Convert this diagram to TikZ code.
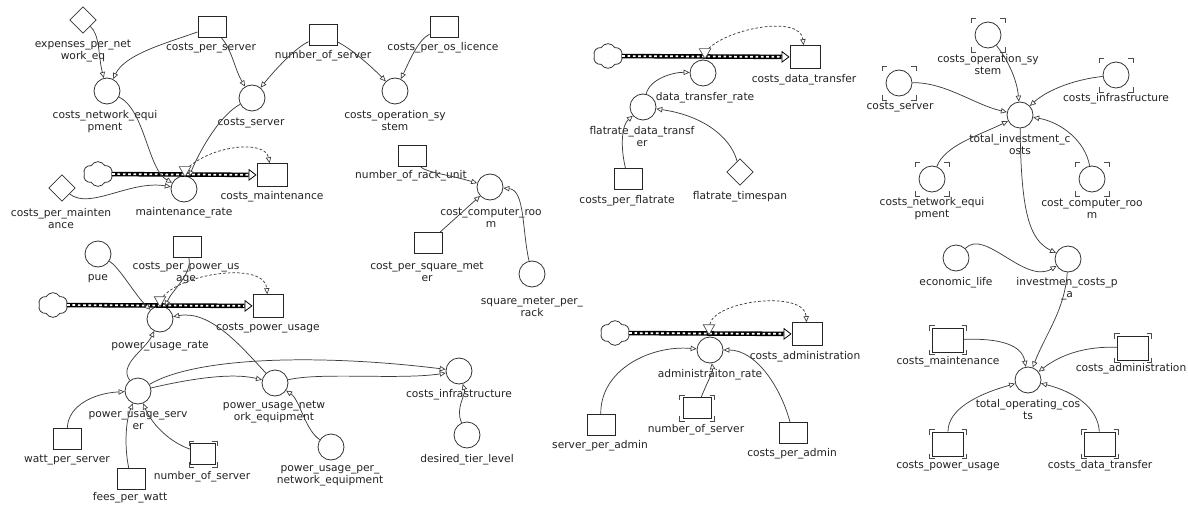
\documentclass[tikz,border=0pt]{standalone}
\usepackage{fontspec}
\setmainfont{DejaVu Sans}
\usetikzlibrary{arrows.meta,shapes.geometric,shapes.symbols,calc}
\definecolor{linkc}{RGB}{60,60,60}
\definecolor{txtc}{RGB}{35,35,35}
\newcommand\lblfont{\fontsize{8pt}{9pt}\selectfont}
\newcommand\corners[3]{%
  \draw[brkst] ($(#1)+(-#2,-#3)$) ++(0,5) -- ++(0,-5) -- ++(5,0);
  \draw[brkst] ($(#1)+(#2,-#3)$) ++(-5,0) -- ++(5,0) -- ++(0,5);
  \draw[brkst] ($(#1)+(-#2,#3)$) ++(0,-5) -- ++(0,5) -- ++(5,0);
  \draw[brkst] ($(#1)+(#2,#3)$) ++(-5,0) -- ++(5,0) -- ++(0,-5);
}
\begin{document}
\begin{tikzpicture}[x=0.75pt,y=-0.75pt,
 txt/.style={font=\lblfont, text=txtc, inner sep=0pt, align=center},
 stock/.style={draw=black!85, line width=0.7pt, minimum width=21pt, minimum height=15.75pt, inner sep=0pt},
 big/.style={minimum width=22.5pt, minimum height=17pt},
 bigb/.style={minimum width=23pt, minimum height=18pt},
 aux/.style={circle, draw=black!80, line width=0.6pt, minimum size=19.5pt, inner sep=0pt},
 const/.style={diamond, draw=black!80, line width=0.6pt, minimum width=20pt, minimum height=20pt, inner sep=0pt},
 src/.style={cloud, cloud puffs=6, cloud puff arc=120, draw=black!80, line width=0.6pt, minimum width=22pt, minimum height=18.5pt, inner sep=0pt},
 valvest/.style={regular polygon, regular polygon sides=3, shape border rotate=180, draw=black!70, fill=white, line width=0.5pt, minimum size=10pt, inner sep=0pt},
 link/.style={draw=linkc, line width=0.55pt, -{Triangle[fill=white, length=4.5pt, width=4pt, line width=0.5pt]}},
 info/.style={link, dash pattern=on 2pt off 1.5pt},
 pipeo/.style={draw=black, line width=3.4pt, -{Triangle[fill=white, length=6pt, width=9pt, line width=0.6pt]}},
 pipei/.style={draw=white, line width=1.3pt, dash pattern=on 2pt off 2pt, shorten >=6.5pt},
 brkst/.style={draw=black!70, line width=0.7pt}
]
\useasboundingbox (0,0) rectangle (1188,506);
\fill[white] (0,0) rectangle (1188,506);

% ---------- Panel A: maintenance
\node[const] (exnet) at (83,20) {};
\node[stock] (cps) at (212,27) {};
\node[stock] (nos1) at (323,35) {};
\node[stock] (cpos) at (444,27) {};
\node[aux] (cne) at (107,91) {};
\node[aux] (cs) at (252,98) {};
\node[aux] (cos) at (395,91) {};
\node[aux] (mr) at (184,189) {};
\node[stock,big] (cm) at (272,175) {};
\node[const] (cpm) at (62,188) {};
\node[src] (cl1) at (98,174) {};

% ---------- Panel B: computer room
\node[stock] (nru) at (412,156) {};
\node[aux] (ccr) at (490,187) {};
\node[stock] (cpsm) at (428,243) {};
\node[aux] (smpr) at (532,274) {};

% ---------- Panel C: power
\node[aux] (pue) at (98,254) {};
\node[stock] (cppu) at (187,247) {};
\node[src] (cl2) at (53,305) {};
\node[aux] (pur) at (160,319) {};
\node[stock,big] (cpu) at (268,306) {};
\node[aux] (pus) at (138,391) {};
\node[aux] (pune) at (275,383) {};
\node[stock] (wps) at (67,439) {};
\node[stock] (fpw) at (131,479) {};
\node[stock,minimum width=19pt] (nos2) at (203,454) {};
\node[aux] (pupne) at (331,447) {};
\node[aux] (ci) at (459,371) {};
\node[aux] (dtl) at (467,435) {};

% ---------- Panel D: data transfer
\node[src] (cl3) at (608,56) {};
\node[stock,big] (cdt) at (805,57) {};
\node[aux] (dtr) at (703,73) {};
\node[aux] (fdt) at (643,107) {};
\node[stock] (cpf) at (628,179) {};
\node[const] (fts) at (740,172) {};

% ---------- Panel E: administration
\node[src] (cl4) at (615,333) {};
\node[stock,big] (cad) at (807,334) {};
\node[aux] (ar) at (710,350) {};
\node[stock] (nos3) at (697,408) {};
\node[stock] (spa) at (601,425) {};
\node[stock] (cpa) at (793,433) {};

% ---------- Panel F: totals
\node[aux] (tos) at (988,35) {};
\node[aux] (tsv) at (899,83) {};
\node[aux] (tci) at (1116,75) {};
\node[aux] (tic) at (1020,115) {};
\node[aux] (tne) at (932,179) {};
\node[aux] (tcr) at (1092,179) {};
\node[aux] (el) at (956,258) {};
\node[aux] (icpa) at (1068,259) {};
\node[stock,bigb] (tcm) at (948,340) {};
\node[stock,bigb] (tca) at (1133,348) {};
\node[aux] (toc) at (1028,380) {};
\node[stock,bigb] (tpu) at (948,444) {};
\node[stock,bigb] (tdt) at (1100,444) {};

% shadow-variable corner marks
\corners{nos2}{14}{13}
\corners{nos3}{17.5}{13}
\corners{tos}{17}{17}
\corners{tsv}{17}{17}
\corners{tci}{17}{17}
\corners{tne}{17}{17}
\corners{tcr}{17}{17}
\corners{tcm}{18.5}{14.5}
\corners{tca}{18.5}{14.5}
\corners{tpu}{18.5}{14.5}
\corners{tdt}{18.5}{14.5}

% ---------- flow pipes
\draw[pipeo] (cl1) -- (cm); \draw[pipei] (cl1) -- (cm);
\draw[pipeo] (cl2) -- (cpu); \draw[pipei] (cl2) -- (cpu);
\draw[pipeo] (cl3) -- (cdt); \draw[pipei] (cl3) -- (cdt);
\draw[pipeo] (cl4) -- (cad); \draw[pipei] (cl4) -- (cad);
\node[valvest] (v1) at (185,170) {};
\node[valvest] (v2) at (160,300) {};
\node[valvest] (v3) at (705,52) {};
\node[valvest] (v4) at (709,328) {};

% ---------- labels
\node[txt] (Lexnet) at (83,51) {expenses\_per\_net\\work\_eq};
\node[txt] (Lcps) at (211,48) {costs\_per\_server};
\node[txt] (Lnos1) at (323,56) {number\_of\_server};
\node[txt] (Lcpos) at (443,48) {costs\_per\_os\_licence};
\node[txt] (Lcne) at (105,122) {costs\_network\_equi\\pment};
\node[txt] (Lcs) at (251,123) {costs\_server};
\node[txt] (Lcos) at (395,121) {costs\_operation\_sy\\stem};
\node[txt] (Lmr) at (184,213) {maintenance\_rate};
\node[txt] (Lcm) at (272,197) {costs\_maintenance};
\node[txt] (Lcpm) at (61,219) {costs\_per\_mainten\\ance};

\node[txt] (Lnru) at (411,176) {number\_of\_rack\_unit};
\node[txt] (Lccr) at (491,218) {cost\_computer\_roo\\m};
\node[txt] (Lcpsm) at (427,272) {cost\_per\_square\_met\\er};
\node[txt] (Lsmpr) at (532,307) {square\_meter\_per\_\\rack};

\node[txt] (Lpue) at (98,279) {pue};
\node[txt] (Lcppu) at (186,273) {costs\_per\_power\_us\\age};
\node[txt] (Lpur) at (160,346) {power\_usage\_rate};
\node[txt] (Lcpu) at (268,328) {costs\_power\_usage};
\node[txt] (Lpus) at (138,421) {power\_usage\_serv\\er};
\node[txt] (Lpune) at (274,412) {power\_usage\_netw\\ork\_equipment};
\node[txt] (Lwps) at (67,460) {watt\_per\_server};
\node[txt] (Lfpw) at (130,498) {fees\_per\_watt};
\node[txt] (Lnos2) at (202,477) {number\_of\_server};
\node[txt] (Lpupne) at (330,476) {power\_usage\_per\_\\network\_equipment};
\node[txt] (Lci) at (459,395) {costs\_infrastructure};
\node[txt] (Ldtl) at (467,460) {desired\_tier\_level};

\node[txt] (Lcdt) at (804,80) {costs\_data\_transfer};
\node[txt] (Ldtr) at (705,98) {data\_transfer\_rate};
\node[txt] (Lfdt) at (642,137) {flatrate\_data\_transf\\er};
\node[txt] (Lcpf) at (627,201) {costs\_per\_flatrate};
\node[txt] (Lfts) at (740,197) {flatrate\_timespan};

\node[txt] (Lar) at (710,375) {administraiton\_rate};
\node[txt] (Lcad) at (805,357) {costs\_administration};
\node[txt] (Lnos3) at (696,430) {number\_of\_server};
\node[txt] (Lspa) at (600,446) {server\_per\_admin};
\node[txt] (Lcpa) at (792,454) {costs\_per\_admin};

\node[txt] (Ltos) at (988,65) {costs\_operation\_sy\\stem};
\node[txt] (Ltsv) at (900,107) {costs\_server};
\node[txt] (Ltci) at (1116,99) {costs\_infrastructure};
\node[txt] (Ltic) at (1020,145) {total\_investment\_c\\osts};
\node[txt] (Ltne) at (932,209) {costs\_network\_equi\\pment};
\node[txt] (Ltcr) at (1092,209) {cost\_computer\_roo\\m};
\node[txt] (Lel) at (956,283) {economic\_life};
\node[txt] (Licpa) at (1067,289) {investmen\_costs\_p\\\_a};
\node[txt] (Ltcm) at (948,362) {costs\_maintenance};
\node[txt] (Ltca) at (1131,369) {costs\_administration};
\node[txt] (Ltoc) at (1028,410) {total\_operating\_cos\\ts};
\node[txt] (Ltpu) at (948,466) {costs\_power\_usage};
\node[txt] (Ltdt) at (1100,466) {costs\_data\_transfer};

% ---------- information arrows (dashed)
\draw[info] (v1) .. controls (215,145) and (265,140) .. (cm);
\draw[info] (v2) .. controls (185,272) and (265,262) .. (cpu);
\draw[info] (v3) .. controls (730,28) and (800,15) .. (cdt);
\draw[info] (v4) .. controls (715,300) and (805,290) .. (cad);

% ---------- links panel A
\draw[link] (exnet) .. controls (100,35) and (98,55) .. (cne);
\draw[link] (cps) .. controls (160,45) and (125,55) .. (cne);
\draw[link] (cps) .. controls (232,50) and (235,70) .. (cs);
\draw[link] (nos1) .. controls (295,48) and (275,70) .. (cs);
\draw[link] (nos1) .. controls (350,48) and (370,65) .. (cos);
\draw[link] (cpos) .. controls (418,40) and (410,60) .. (cos);
\draw[link] (cne) .. controls (145,110) and (148,170) .. (mr);
\draw[link] (cs) .. controls (220,115) and (200,150) .. (mr);
\draw[link] (cpm) .. controls (90,210) and (130,180) .. (mr);

% ---------- links panel B
\draw[link] (nru) .. controls (425,172) and (450,175) .. (ccr);
\draw[link] (cpsm) -- (ccr);
\draw[link] (smpr) .. controls (522,230) and (525,190) .. (ccr);

% ---------- links panel C
\draw[link] (pue) .. controls (120,268) and (135,295) .. (pur);
\draw[link] (cppu) .. controls (192,275) and (172,290) .. (pur);
\draw[link] (pune) .. controls (240,345) and (210,310) .. (pur);
\draw[link] (pus) .. controls (118,365) and (145,350) .. (pur);
\draw[link] (pus) .. controls (185,380) and (230,372) .. (pune);
\draw[link] (pus) .. controls (200,355) and (330,355) .. (ci);
\draw[link] (pune) .. controls (320,372) and (400,380) .. (ci);
\draw[link] (wps) .. controls (68,405) and (95,393) .. (pus);
\draw[link] (fpw) .. controls (124,445) and (126,420) .. (pus);
\draw[link] (nos2) .. controls (165,440) and (150,420) .. (pus);
\draw[link] (pupne) .. controls (305,430) and (300,400) .. (pune);
\draw[link] (dtl) .. controls (455,408) and (466,395) .. (ci);

% ---------- links panel D
\draw[link] (fdt) .. controls (650,78) and (675,72) .. (dtr);
\draw[link] (cpf) .. controls (620,145) and (622,125) .. (fdt);
\draw[link] (fts) .. controls (730,135) and (700,115) .. (fdt);

% ---------- links panel E
\draw[link] (spa) .. controls (600,370) and (650,345) .. (ar);
\draw[link] (nos3) .. controls (706,385) and (713,372) .. (ar);
\draw[link] (cpa) .. controls (780,385) and (755,350) .. (ar);

% ---------- links panel F
\draw[link] (tos) .. controls (1008,60) and (1017,80) .. (tic);
\draw[link] (tsv) .. controls (945,82) and (975,105) .. (tic);
\draw[link] (tci) .. controls (1070,80) and (1045,92) .. (tic);
\draw[link] (tne) .. controls (945,145) and (980,135) .. (tic);
\draw[link] (tcr) .. controls (1085,140) and (1060,122) .. (tic);
\draw[link] (tic) .. controls (1021,215) and (1030,240) .. (icpa);
\draw[link] (el) .. controls (985,228) and (1025,285) .. (icpa);
\draw[link] (icpa) .. controls (1065,310) and (1045,335) .. (toc);
\draw[link] (tcm) .. controls (1000,338) and (1022,345) .. (toc);
\draw[link] (tca) .. controls (1085,346) and (1060,355) .. (toc);
\draw[link] (tpu) .. controls (948,410) and (975,395) .. (toc);
\draw[link] (tdt) .. controls (1098,408) and (1075,392) .. (toc);
\end{tikzpicture}
\end{document}
